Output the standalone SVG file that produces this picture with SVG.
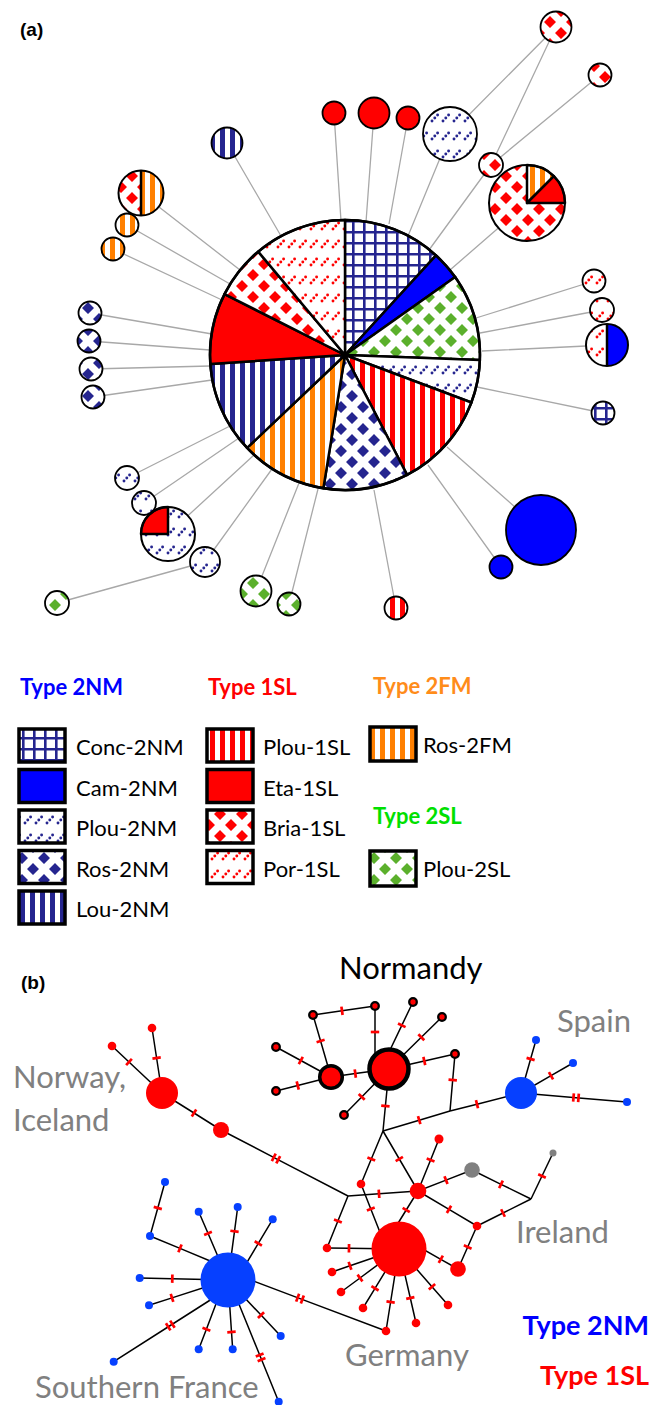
<svg xmlns="http://www.w3.org/2000/svg" width="653" height="1405" viewBox="0 0 653 1405">
<style>
.lk{stroke:#a8a8a8;stroke-width:1.3;fill:none}
.nd{stroke:#000;stroke-width:1.8}
.sl{stroke:#000;stroke-width:2.5;stroke-linejoin:round}
.lb{stroke:#000;stroke-width:3.5}
.hd{font-family:Lato,"Open Sans",sans-serif;font-weight:bold;font-size:22px}
.lt{font-family:Lato,"Open Sans",sans-serif;font-size:22px;fill:#000}
.pl{font-family:Lato,"Open Sans",sans-serif;font-size:31px;fill:#808080}
.ed{stroke:#000;stroke-width:1.5;fill:none;marker-mid:url(#t1)}
.ed2{stroke:#000;stroke-width:1.5;fill:none;marker-mid:url(#t2)}
.rd{fill:#ff0000}
.bl{fill:#0640ff}
.gy{fill:#808080}
.rg{fill:#ff0000;stroke:#000}
</style>
<defs>
<pattern id="pGrid" width="11" height="11" patternUnits="userSpaceOnUse"><rect width="11" height="11" fill="#fff"/><path d="M0 1.3H11M1.3 0V11" stroke="#25258f" stroke-width="2.6"/></pattern>
<pattern id="pLou" width="10" height="10" patternUnits="userSpaceOnUse"><rect width="10" height="10" fill="#fff"/><rect width="5" height="10" fill="#25258f"/></pattern>
<pattern id="pP1" width="10" height="10" patternUnits="userSpaceOnUse"><rect width="10" height="10" fill="#fff"/><rect width="5" height="10" fill="#ff0000"/></pattern>
<pattern id="pFM" width="10" height="10" patternUnits="userSpaceOnUse"><rect width="10" height="10" fill="#fff"/><rect width="5" height="10" fill="#ff8000"/></pattern>
<pattern id="pRos" width="22" height="22" patternUnits="userSpaceOnUse"><rect width="22" height="22" fill="#fff"/><path d="M11 5L17 11L11 17L5 11ZM0 -6L6 0L0 6L-6 0ZM22 -6L28 0L22 6L16 0ZM0 16L6 22L0 28L-6 22ZM22 16L28 22L22 28L16 22Z" fill="#25258f"/></pattern>
<pattern id="pBria" width="22" height="22" patternUnits="userSpaceOnUse"><rect width="22" height="22" fill="#fff"/><path d="M11 5L17 11L11 17L5 11ZM0 -6L6 0L0 6L-6 0ZM22 -6L28 0L22 6L16 0ZM0 16L6 22L0 28L-6 22ZM22 16L28 22L22 28L16 22Z" fill="#ff0000"/></pattern>
<pattern id="pGrn" width="22" height="22" patternUnits="userSpaceOnUse"><rect width="22" height="22" fill="#fff"/><path d="M11 5L17 11L11 17L5 11ZM0 -6L6 0L0 6L-6 0ZM22 -6L28 0L22 6L16 0ZM0 16L6 22L0 28L-6 22ZM22 16L28 22L22 28L16 22Z" fill="#5bb02c"/></pattern>
<pattern id="pP2" width="11" height="18" patternUnits="userSpaceOnUse"><rect width="11" height="18" fill="#fff"/><g fill="#25258f"><circle cx="3" cy="13" r="1.45"/><circle cx="5.8" cy="10" r="1.45"/><circle cx="8.6" cy="7" r="1.45"/></g></pattern>
<pattern id="pPor" width="11" height="18" patternUnits="userSpaceOnUse"><rect width="11" height="18" fill="#fff"/><g fill="#ff0000"><circle cx="3" cy="13" r="1.45"/><circle cx="5.8" cy="10" r="1.45"/><circle cx="8.6" cy="7" r="1.45"/></g></pattern>
<marker id="t1" markerUnits="userSpaceOnUse" markerWidth="12" markerHeight="12" refX="6" refY="6" orient="auto" overflow="visible"><path d="M6 1.8V10.2" stroke="#ff0000" stroke-width="2.7"/></marker>
<marker id="t2" markerUnits="userSpaceOnUse" markerWidth="12" markerHeight="12" refX="6" refY="6" orient="auto" overflow="visible"><path d="M3.5 1.8V10.2M8.5 1.8V10.2" stroke="#ff0000" stroke-width="2.7"/></marker>
</defs>
<rect width="653" height="1405" fill="#fff"/>

<text x="20" y="36" font-family="Liberation Sans,Arial,sans-serif" font-weight="bold" font-size="19">(a)</text>

<g id="links-a">
<path class="lk" d="M334 113L341 221M374 113L366 222M408 118L389 224M450 134L408 236M556 27L450 134M556 27L491 165M600 75L491 165M491 165L429 250M527 203L450 270M594 281L476 318M602 310L480 333M607 345L482 351M603 413L477 387M541 530L447 447M501 567L428 465M396 608L374 490M289 604L318 489M256 591L299 483M205 562L272 469M57 603L205 562M168 534L254 455M144 503L239 438M127 478L230 426M93 397L212 380M91 369L210 366M89 341L210 350M90 313L212 334M113 249L222 300M127 225L230 284M141 193L240 270M227 143L281 236"/>
</g>

<g id="main-pie">
<path class="sl" fill="url(#pGrid)" d="M345 355L345 220A135 135 0 0 1 436 255.3Z"/>
<path class="sl" fill="#0000ff" d="M345 355L436 255.3A135 135 0 0 1 455.2 277Z"/>
<path class="sl" fill="url(#pGrn)" d="M345 355L455.2 277A135 135 0 0 1 479.9 359.9Z"/>
<path class="sl" fill="url(#pP2)" d="M345 355L479.9 359.9A135 135 0 0 1 471.4 402.5Z"/>
<path class="sl" fill="url(#pP1)" d="M345 355L471.4 402.5A135 135 0 0 1 407.1 474.9Z"/>
<path class="sl" fill="url(#pRos)" d="M345 355L407.1 474.9A135 135 0 0 1 323.4 488.3Z"/>
<path class="sl" fill="url(#pFM)" d="M345 355L323.4 488.3A135 135 0 0 1 247.1 447.9Z"/>
<path class="sl" fill="url(#pLou)" d="M345 355L247.1 447.9A135 135 0 0 1 210.3 364Z"/>
<path class="sl" fill="#ff0000" d="M345 355L210.3 364A135 135 0 0 1 224.5 294.1Z"/>
<path class="sl" fill="url(#pBria)" d="M345 355L224.5 294.1A135 135 0 0 1 258.2 251.6Z"/>
<path class="sl" fill="url(#pPor)" d="M345 355L258.2 251.6A135 135 0 0 1 345 220Z"/>
<circle cx="345" cy="355" r="135" fill="none" stroke="#000" stroke-width="2.5"/>
</g>

<g id="n-top"><circle class="nd" cx="556" cy="27" r="15.5" fill="url(#pBria)"/></g>
<g id="n-tr"><circle class="nd" cx="600" cy="75" r="11.5" fill="url(#pBria)"/></g>
<g id="n-bria-s"><circle class="nd" cx="491" cy="165" r="12" fill="url(#pBria)"/></g>
<g id="n-bria-big">
<circle cx="527" cy="203" r="38" fill="url(#pBria)"/>
<path class="sl" fill="url(#pFM)" d="M527 203L527 165A38 38 0 0 1 553.9 176.1Z"/>
<path class="sl" fill="#ff0000" d="M527 203L553.9 176.1A38 38 0 0 1 565 203Z"/>
<circle cx="527" cy="203" r="38" fill="none" stroke="#000" stroke-width="2"/>
</g>
<g id="n-plou-top"><circle class="nd" cx="450" cy="134" r="27" fill="url(#pP2)"/></g>
<g id="n-red1"><circle class="nd" cx="334" cy="113" r="11.5" fill="#ff0000"/></g>
<g id="n-red2"><circle class="nd" cx="374" cy="113" r="15.5" fill="#ff0000"/></g>
<g id="n-red3"><circle class="nd" cx="408" cy="118" r="11.5" fill="#ff0000"/></g>
<g id="n-lou"><circle class="nd" cx="227" cy="143" r="15.5" fill="url(#pLou)"/></g>
<g id="n-briaros">
<path fill="url(#pBria)" d="M141 170.5A22.5 22.5 0 0 0 141 215.5Z"/>
<path fill="url(#pFM)" d="M141 170.5A22.5 22.5 0 0 1 141 215.5Z"/>
<path d="M141 170.5V215.5" stroke="#000" stroke-width="2.5"/>
<circle cx="141" cy="193" r="22.5" fill="none" stroke="#000" stroke-width="2"/>
</g>
<g id="n-fm1"><circle class="nd" cx="127" cy="225" r="11.5" fill="url(#pFM)"/></g>
<g id="n-fm2"><circle class="nd" cx="113" cy="249" r="11.5" fill="url(#pFM)"/></g>
<g id="n-ros1"><circle class="nd" cx="90" cy="313" r="11.5" fill="url(#pRos)"/></g>
<g id="n-ros2"><circle class="nd" cx="89" cy="341" r="11.5" fill="url(#pRos)"/></g>
<g id="n-ros3"><circle class="nd" cx="91" cy="369" r="11.5" fill="url(#pRos)"/></g>
<g id="n-ros4"><circle class="nd" cx="93" cy="397" r="11.5" fill="url(#pRos)"/></g>
<g id="n-p2a"><circle class="nd" cx="127" cy="478" r="12" fill="url(#pP2)"/></g>
<g id="n-p2b"><circle class="nd" cx="144" cy="503" r="12" fill="url(#pP2)"/></g>
<g id="n-p2big">
<circle cx="168" cy="534" r="27" fill="url(#pP2)"/>
<path class="sl" fill="#ff0000" d="M168 534L141 534A27 27 0 0 1 168 507Z"/>
<circle cx="168" cy="534" r="27" fill="none" stroke="#000" stroke-width="2"/>
</g>
<g id="n-p2c"><circle class="nd" cx="205" cy="562" r="15" fill="url(#pP2)"/></g>
<g id="n-g1"><circle class="nd" cx="57" cy="603" r="12" fill="url(#pGrn)"/></g>
<g id="n-g2"><circle class="nd" cx="256" cy="591" r="15.5" fill="url(#pGrn)"/></g>
<g id="n-g3"><circle class="nd" cx="289" cy="604" r="11.5" fill="url(#pGrn)"/></g>
<g id="n-p1"><circle class="nd" cx="396" cy="608" r="11.5" fill="url(#pP1)"/></g>
<g id="n-cam-s"><circle class="nd" cx="501" cy="567" r="11.5" fill="#0000ff"/></g>
<g id="n-cam-b"><circle class="nd" cx="541" cy="530" r="35" fill="#0000ff"/></g>
<g id="n-conc"><circle class="nd" cx="603" cy="413" r="11.5" fill="url(#pGrid)"/></g>
<g id="n-porcam">
<path fill="url(#pPor)" d="M607 324A21 21 0 0 0 607 366Z"/>
<path fill="#0000ff" d="M607 324A21 21 0 0 1 607 366Z"/>
<path d="M607 324V366" stroke="#000" stroke-width="2.5"/>
<circle cx="607" cy="345" r="21" fill="none" stroke="#000" stroke-width="2"/>
</g>
<g id="n-por1"><circle class="nd" cx="602" cy="310" r="12" fill="url(#pPor)"/></g>
<g id="n-por2"><circle class="nd" cx="594" cy="281" r="11.5" fill="url(#pPor)"/></g>

<g id="legend">
<text class="hd" x="20" y="695" fill="#0000ff">Type 2NM</text>
<text class="hd" x="208" y="695" fill="#ff0000">Type 1SL</text>
<text class="hd" x="373" y="694" fill="#ff8c1a">Type 2FM</text>
<text class="hd" x="373" y="824" fill="#00e000">Type 2SL</text>
<rect class="lb" x="19" y="729" width="46" height="33" fill="url(#pGrid)"/>
<rect class="lb" x="19" y="769.5" width="46" height="33" fill="#0000ff"/>
<rect class="lb" x="19" y="810" width="46" height="33" fill="url(#pP2)"/>
<rect class="lb" x="19" y="850.5" width="46" height="33" fill="url(#pRos)"/>
<rect class="lb" x="19" y="891" width="46" height="33" fill="url(#pLou)"/>
<text class="lt" x="76" y="755">Conc-2NM</text>
<text class="lt" x="76" y="795.5">Cam-2NM</text>
<text class="lt" x="76" y="836">Plou-2NM</text>
<text class="lt" x="76" y="876.5">Ros-2NM</text>
<text class="lt" x="76" y="917">Lou-2NM</text>
<rect class="lb" x="207" y="729" width="46" height="33" fill="url(#pP1)"/>
<rect class="lb" x="207" y="769.5" width="46" height="33" fill="#ff0000"/>
<rect class="lb" x="207" y="810" width="46" height="33" fill="url(#pBria)"/>
<rect class="lb" x="207" y="850.5" width="46" height="33" fill="url(#pPor)"/>
<text class="lt" x="263" y="755">Plou-1SL</text>
<text class="lt" x="263" y="795.5">Eta-1SL</text>
<text class="lt" x="263" y="836">Bria-1SL</text>
<text class="lt" x="263" y="876.5">Por-1SL</text>
<rect class="lb" x="370" y="727" width="46" height="34" fill="url(#pFM)"/>
<text class="lt" x="423" y="753">Ros-2FM</text>
<rect class="lb" x="370" y="851" width="46" height="35" fill="url(#pGrn)"/>
<text class="lt" x="423" y="877">Plou-2SL</text>
</g>

<text x="21" y="989" font-family="Liberation Sans,Arial,sans-serif" font-weight="bold" font-size="19">(b)</text>

<g id="edges-b">
<path class="ed" d="M313 1015L342 1010.8L375 1006"/>
<path class="ed" d="M313 1015L320.6 1041L331 1077"/>
<path class="ed" d="M276 1047L300.8 1060.5L331 1077"/>
<path class="ed" d="M276 1091L297.7 1085.5L331 1077"/>
<path class="ed" d="M331 1077L355.3 1073.6L389 1069"/>
<path class="ed" d="M375 1006L375 1032L375 1060"/>
<path class="ed" d="M413 1002L401.8 1025.3L390 1050"/>
<path class="ed" d="M442 1017L421.3 1037.3L389 1069"/>
<path class="ed" d="M455 1054L424.3 1061L389 1069"/>
<path class="ed" d="M344 1115L361.7 1096.9L389 1069"/>
<path class="ed" d="M389 1069L385.4 1106L383 1131"/>
<path class="ed" d="M383 1131L419.2 1120.2L450 1111"/>
<path class="ed" d="M455 1054L452.7 1080L450 1111"/>
<path class="ed" d="M450 1111L477 1104.2L521 1093"/>
<path class="ed" d="M521 1093L530.6 1059L536 1040"/>
<path class="ed" d="M521 1093L551 1075.7L573 1063"/>
<path class="ed2" d="M521 1093L576 1097.7L627 1102"/>
<path class="ed" d="M162 1093L129 1062L112 1046"/>
<path class="ed" d="M162 1093L156.6 1058L152 1028"/>
<path class="ed" d="M162 1093L194 1113L221 1130"/>
<path class="ed2" d="M221 1130L276 1158.6L348 1196"/>
<path class="ed" d="M348 1196L379 1193.8L418 1191"/>
<path class="ed" d="M348 1196L337.9 1221L327 1248"/>
<path class="ed" d="M383 1131L371.3 1159L361 1184"/>
<path class="ed" d="M383 1131L399.3 1159L418 1191"/>
<path class="ed" d="M418 1191L430.6 1160L439 1139"/>
<path class="ed" d="M418 1191L446 1180.1L472 1170"/>
<path class="ed" d="M472 1170L501 1184.3L531 1199"/>
<path class="ed" d="M553 1153L542 1176L531 1199"/>
<path class="ed" d="M531 1199L503 1213L477 1226"/>
<path class="ed" d="M418 1191L449 1209.4L477 1226"/>
<path class="ed" d="M477 1226L467.7 1247L458 1269"/>
<path class="ed" d="M406 1239.5L440.8 1259.3L458 1269"/>
<path class="ed" d="M361 1184L370.8 1209L385 1245"/>
<path class="ed" d="M418 1191L406.2 1210L392 1233"/>
<path class="ed" d="M399 1249L349 1248.3L327 1248"/>
<path class="ed" d="M399 1249L350 1265.8L332 1272"/>
<path class="ed" d="M399 1249L360 1278L341 1292"/>
<path class="ed" d="M399 1249L375 1288.3L363 1308"/>
<path class="ed" d="M399 1249L390.6 1302L386 1331"/>
<path class="ed" d="M399 1249L410.3 1298L416 1323"/>
<path class="ed" d="M399 1249L432 1286.7L448 1305"/>
<path class="ed2" d="M240 1276L300 1298.6L386 1331"/>
<path class="ed" d="M165 1182L157.8 1208L150 1236"/>
<path class="ed" d="M150 1236L180 1248.4L215 1263"/>
<path class="ed" d="M198.7 1211.7L208 1233.3L228 1280"/>
<path class="ed" d="M237.7 1207L234.5 1231.3L228 1280"/>
<path class="ed" d="M272.7 1219.3L258.3 1243.4L240 1274"/>
<path class="ed" d="M139.7 1278L172.3 1278.7L228 1280"/>
<path class="ed" d="M149 1305.3L172 1297.9L215 1284"/>
<path class="ed2" d="M113.7 1361.7L170.3 1325.5L215 1297"/>
<path class="ed" d="M198.7 1349.3L206.4 1329.3L222 1288"/>
<path class="ed" d="M232.7 1349.3L231.5 1332L228 1280"/>
<path class="ed" d="M280.7 1336L261 1315.1L228 1280"/>
<path class="ed2" d="M278.7 1401.7L260.6 1357.3L232 1287"/>
</g>

<g id="nodes-b-normandy">
<circle class="rg" cx="313" cy="1015" r="3.8" stroke-width="2.3"/>
<circle class="rg" cx="375" cy="1006" r="3.8" stroke-width="2.3"/>
<circle class="rg" cx="413" cy="1002" r="3.8" stroke-width="2.3"/>
<circle class="rg" cx="442" cy="1017" r="3.8" stroke-width="2.3"/>
<circle class="rg" cx="455" cy="1054" r="3.8" stroke-width="2.3"/>
<circle class="rg" cx="276" cy="1047" r="3.8" stroke-width="2.3"/>
<circle class="rg" cx="276" cy="1091" r="3.8" stroke-width="2.3"/>
<circle class="rg" cx="344" cy="1115" r="3.8" stroke-width="2.3"/>
<circle class="rg" cx="331" cy="1077" r="11.3" stroke-width="3.5"/>
<circle class="rg" cx="389" cy="1069" r="19.5" stroke-width="4.5"/>
</g>
<g id="nodes-b-red">
<circle class="rd" cx="162" cy="1093" r="16"/>
<circle class="rd" cx="112" cy="1046" r="4.3"/>
<circle class="rd" cx="152" cy="1028" r="4.3"/>
<circle class="rd" cx="221" cy="1130" r="8"/>
<circle class="rd" cx="439" cy="1139" r="4.5"/>
<circle class="rd" cx="361" cy="1184" r="4.3"/>
<circle class="rd" cx="418" cy="1191" r="8.3"/>
<circle class="rd" cx="477" cy="1226" r="4.3"/>
<circle class="rd" cx="458" cy="1269" r="7.8"/>
<circle class="rd" cx="399" cy="1249" r="27.5"/>
<circle class="rd" cx="327" cy="1248" r="4.3"/>
<circle class="rd" cx="332" cy="1272" r="4.3"/>
<circle class="rd" cx="341" cy="1292" r="4.3"/>
<circle class="rd" cx="363" cy="1308" r="4.3"/>
<circle class="rd" cx="386" cy="1331" r="4.3"/>
<circle class="rd" cx="416" cy="1323" r="4.3"/>
<circle class="rd" cx="448" cy="1305" r="4.3"/>
</g>
<g id="nodes-b-blue">
<circle class="bl" cx="521" cy="1093" r="16"/>
<circle class="bl" cx="536" cy="1040" r="4"/>
<circle class="bl" cx="573" cy="1063" r="4"/>
<circle class="bl" cx="627" cy="1102" r="4"/>
<circle class="bl" cx="228" cy="1280" r="27.5"/>
<circle class="bl" cx="165" cy="1182" r="4"/>
<circle class="bl" cx="150" cy="1236" r="4"/>
<circle class="bl" cx="198.7" cy="1211.7" r="4"/>
<circle class="bl" cx="237.7" cy="1207" r="4"/>
<circle class="bl" cx="272.7" cy="1219.3" r="4"/>
<circle class="bl" cx="139.7" cy="1278" r="4"/>
<circle class="bl" cx="149" cy="1305.3" r="4"/>
<circle class="bl" cx="113.7" cy="1361.7" r="4"/>
<circle class="bl" cx="198.7" cy="1349.3" r="4"/>
<circle class="bl" cx="232.7" cy="1349.3" r="4"/>
<circle class="bl" cx="280.7" cy="1336" r="4"/>
<circle class="bl" cx="278.7" cy="1401.7" r="4"/>
</g>
<g id="nodes-b-gray">
<circle class="gy" cx="472" cy="1170" r="7.8"/>
<circle class="gy" cx="553" cy="1153" r="3.5"/>
</g>

<g id="labels-b">
<text x="339" y="979" font-family="Lato,'Open Sans',sans-serif" font-size="31" fill="#000">Normandy</text>
<text class="pl" x="557" y="1032">Spain</text>
<text class="pl" x="13" y="1088">Norway,</text>
<text class="pl" x="13" y="1131">Iceland</text>
<text class="pl" x="516" y="1243">Ireland</text>
<text class="pl" x="345" y="1366">Germany</text>
<text class="pl" x="35" y="1398">Southern France</text>
<text class="hd" x="649" y="1335" text-anchor="end" style="font-size:27px" fill="#0000ff">Type 2NM</text>
<text class="hd" x="649" y="1385" text-anchor="end" style="font-size:27px" fill="#ff0000">Type 1SL</text>
</g>
</svg>
